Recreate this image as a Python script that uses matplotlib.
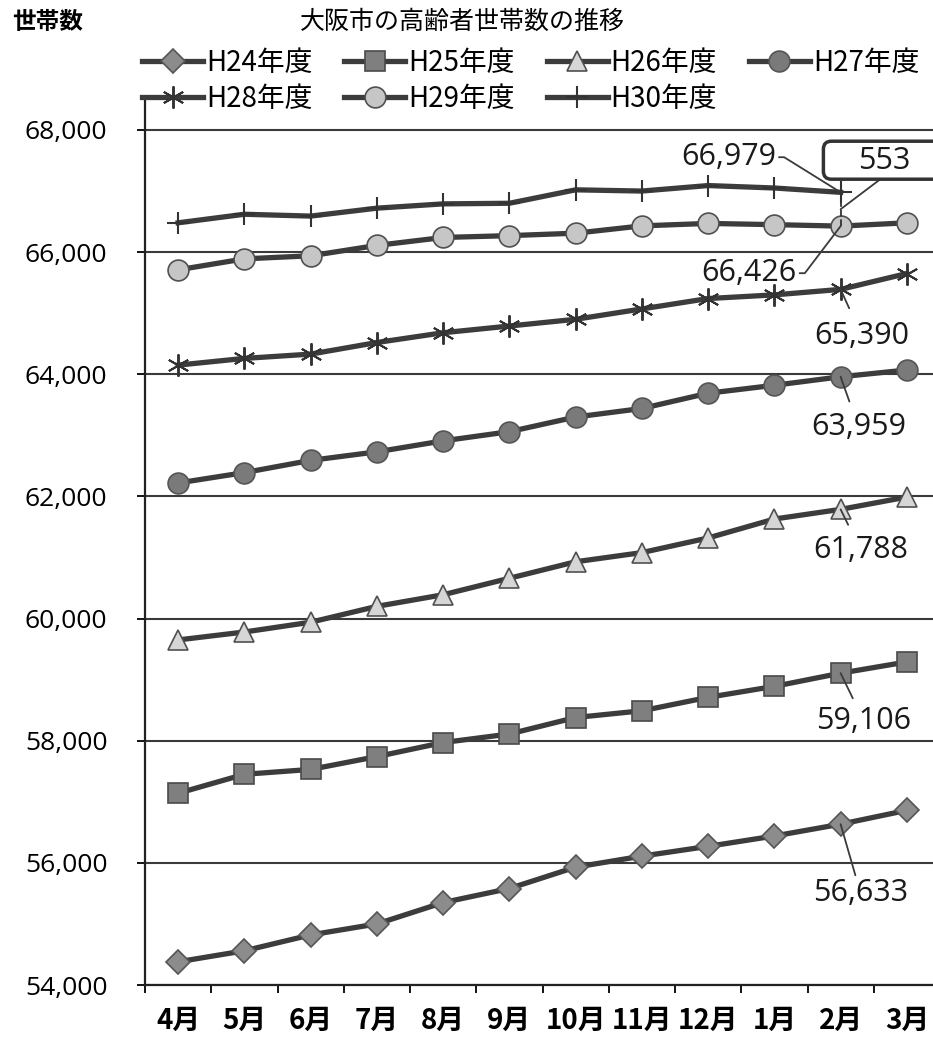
import numpy as np
import matplotlib.pyplot as plt
from matplotlib.patches import FancyBboxPatch

plt.rcParams['font.family'] = ['Noto Sans CJK JP', 'DejaVu Sans']

# 大阪市の高齢者世帯数（月別）
months = ['4月', '5月', '6月', '7月', '8月', '9月', '10月', '11月', '12月', '1月', '2月', '3月']
h24 = [54380, 54560, 54820, 55000, 55350, 55580, 55930, 56110, 56270, 56440, 56633, 56860]
h25 = [57140, 57450, 57530, 57740, 57970, 58110, 58380, 58490, 58710, 58890, 59106, 59290]
h26 = [59650, 59780, 59940, 60200, 60390, 60660, 60930, 61080, 61320, 61630, 61788, 61990]
h27 = [62220, 62390, 62590, 62730, 62910, 63060, 63300, 63440, 63690, 63820, 63959, 64070]
h28 = [64150, 64260, 64330, 64520, 64680, 64790, 64900, 65070, 65240, 65300, 65390, 65650]
h29 = [65710, 65890, 65940, 66110, 66240, 66270, 66310, 66430, 66470, 66450, 66426, 66480]
h30 = [66480, 66620, 66590, 66720, 66790, 66800, 67020, 67000, 67090, 67050, 66979]
names = ['H24年度', 'H25年度', 'H26年度', 'H27年度', 'H28年度', 'H29年度', 'H30年度']
yticks = [54000, 56000, 58000, 60000, 62000, 64000, 66000, 68000]

line_col = '#3c3c3c'
styles = [
    dict(marker='D', ms=12, mfc='#8c8c8c', mec='#555555', mew=1.2),
    dict(marker='s', ms=14, mfc='#7f7f7f', mec='#4a4a4a', mew=1.2),
    dict(marker='^', ms=15, mfc='#d6d6d6', mec='#505050', mew=1.2),
    dict(marker='o', ms=15, mfc='#7a7a7a', mec='#555555', mew=1.2),
    dict(marker=(6, 2, 0), ms=16, mfc='none', mec='#333333', mew=1.4),
    dict(marker='o', ms=15, mfc='#c6c6c6', mec='#505050', mew=1.2),
    dict(marker='+', ms=16, mfc='none', mec='#333333', mew=1.5),
]

fig = plt.figure(figsize=(9.33, 10.43), dpi=100)
ax = fig.add_axes([145/933, 58/1043, 795/933, 888/1043])

series = [h24, h25, h26, h27, h28, h29, h30]
lines = []
for vals, name, st in zip(series, names, styles):
    ln, = ax.plot(np.arange(len(vals)), vals, color=line_col, lw=3.8,
                  label=name, zorder=3, **st)
    lines.append(ln)

ax.set_xlim(-0.5, 11.5)
ax.set_ylim(54000, 68540)
ax.set_yticks(yticks)
ax.set_yticklabels([f'{v:,}' for v in yticks], family='Open Sans', fontsize=19)
ax.yaxis.grid(True, color='#3a3a3a', lw=1.5)
ax.set_axisbelow(True)

ax.set_xticks(np.arange(-0.5, 12, 1))
ax.set_xticklabels([])
ax.set_xticks(np.arange(12), minor=True)
ax.set_xticklabels(months, minor=True, fontsize=20, fontweight='bold')
ax.tick_params(axis='x', which='major', direction='out', length=6, width=1.3)
ax.tick_params(axis='x', which='minor', length=0, pad=16)
ax.tick_params(axis='y', direction='out', length=6, width=1.3, pad=21)

for s in ['top', 'right']:
    ax.spines[s].set_visible(False)
for s in ['left', 'bottom']:
    ax.spines[s].set_linewidth(1.6)
    ax.spines[s].set_color('#222222')

# 2月のデータラベル
lab_font = dict(family='Open Sans', fontsize=22, color='#1a1a1a', ha='center', va='center')
lead = dict(arrowstyle='-', color='#3a3a3a', lw=1.3, shrinkB=0)
ax.annotate(f'{h24[10]:,}', xy=(10, h24[10]), xytext=(10.3, 55506),
            arrowprops=dict(lead, shrinkA=0), **lab_font)
ax.annotate(f'{h25[10]:,}', xy=(10, h25[10]), xytext=(10.35, 58322),
            arrowprops=dict(lead, shrinkA=4), **lab_font)
ax.annotate(f'{h26[10]:,}', xy=(10, h26[10]), xytext=(10.3, 61121),
            arrowprops=dict(lead, shrinkA=6), **lab_font)
ax.annotate(f'{h27[10]:,}', xy=(10, h27[10]), xytext=(10.27, 63134),
            arrowprops=dict(lead, shrinkA=6), **lab_font)
ax.annotate(f'{h28[10]:,}', xy=(10, h28[10]), xytext=(10.32, 64624),
            arrowprops=dict(lead, shrinkA=8), **lab_font)
ax.annotate(f'{h29[10]:,}', xy=(10, h29[10]), xytext=(8.62, 65655),
            arrowprops=dict(lead, shrinkA=0, relpos=(1, 0.5),
                            connectionstyle='arc,angleA=0,angleB=90,armA=8,armB=0,rad=0'),
            **lab_font)
ax.annotate(f'{h30[10]:,}', xy=(10, h30[10]), xytext=(8.31, 67554),
            arrowprops=dict(lead, shrinkA=0, relpos=(1, 0.5),
                            connectionstyle='arc,angleA=0,angleB=90,armA=8,armB=0,rad=0'),
            **lab_font)

# H29とH30の差（吹き出し枠は右端で切れる）
ax.vlines(10, h29[10], h30[10], colors='#333333', linestyles='--', lw=1.3, zorder=4)
diff = h30[10] - h29[10]
box_x0, box_x1 = 9.74, 11.8
box_y0, box_y1 = 67194, 67816
px_x = 1 / 66.3
px_y = 14540 / 888
ax.add_patch(FancyBboxPatch((box_x0, box_y0), box_x1 - box_x0, box_y1 - box_y0,
                            boxstyle=f'round,pad=0,rounding_size={8 * px_x}',
                            mutation_aspect=px_y / px_x, fc='white', ec='#333333',
                            lw=2.5, clip_on=False, zorder=5))
ax.text(10.66, 67489, f'{diff:,}', zorder=6, **lab_font)
ax.annotate('', xy=(10, (h29[10] + h30[10]) / 2), xytext=(10.6, box_y0),
            arrowprops=dict(lead, shrinkA=0))

# 凡例（4列×2行、行方向の並び）
order = [0, 4, 1, 5, 2, 6, 3]
fig.legend([lines[i] for i in order], [names[i] for i in order],
           loc='upper left', bbox_to_anchor=(142/933, 1 - 48/1043), ncol=4,
           frameon=False, fontsize=20, handlelength=2.2, handletextpad=0.1,
           columnspacing=1.15, labelspacing=0.2, borderpad=0, borderaxespad=0)

fig.text(462/933, 1 - 22/1043, '大阪市の高齢者世帯数の推移', ha='center', va='center',
         fontsize=18)
fig.text(12/933, 1 - 22/1043, '世帯数', ha='left', va='center', fontsize=17,
         fontweight='bold')

fig.savefig('out.png', dpi=100)
